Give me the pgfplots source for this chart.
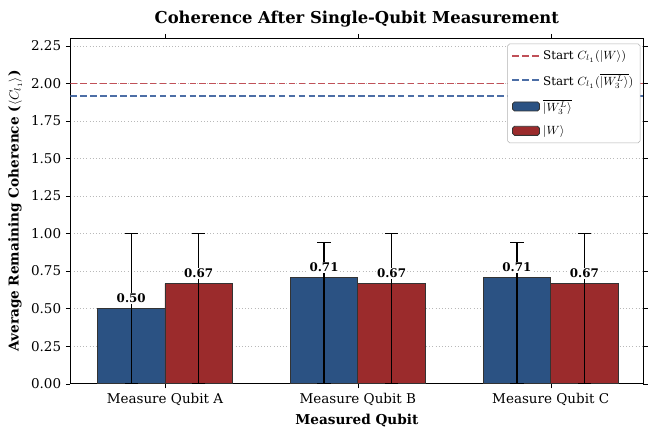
\documentclass[border=0pt]{standalone}
\usepackage{fontspec}
\setmainfont{DejaVu Serif}
\usepackage{pgfplots}
\pgfplotsset{compat=1.18}
\definecolor{cblue}{RGB}{43,82,131}
\definecolor{cred}{RGB}{155,43,44}
\definecolor{lred}{RGB}{192,80,88}
\definecolor{lblue}{RGB}{76,110,166}
\pgfplotsset{
  lineleg/.style={legend image code/.code={\draw[##1] (0cm,0cm) -- (0.72cm,0cm);}},
  barleg/.style={legend image code/.code={\draw[##1] (0cm,-0.12cm) rectangle (0.72cm,0.12cm);}},
}
\begin{document}
\begin{tikzpicture}
\begin{axis}[
  set layers,
  scale only axis,
  width=433pt, height=261pt,
  xmin=-0.49, xmax=2.48,
  ymin=0, ymax=2.3,
  xtick={0,1,2},
  xticklabels={Measure Qubit A, Measure Qubit B, Measure Qubit C},
  ytick={0,0.25,...,2.25},
  yticklabel style={/pgf/number format/.cd, fixed, fixed zerofill, precision=2},
  /pgf/number format/assume math mode=true,
  tick label style={font=\fontsize{10.2}{12}\selectfont},
  tick align=outside,
  xtick style={draw=black},
  ytick style={draw=black},
  major tick length=3.5pt,
  ymajorgrids,
  grid style={dotted, gray!55, line width=0.6pt},
  title={\bfseries Coherence After Single-Qubit Measurement},
  title style={font=\fontsize{12.4}{14}\selectfont, yshift=-1pt},
  xlabel={\bfseries Measured Qubit},
  ylabel={\bfseries Average Remaining Coherence ($\langle C_{l_1}\rangle$)},
  label style={font=\fontsize{10.3}{12}\selectfont},
  legend cell align=left,
  legend style={at={(0.995,0.985)}, anchor=north east, font=\fontsize{9}{10}\selectfont, draw=gray!60, rounded corners=1.5pt, row sep=5pt, inner ysep=3pt},
  nodes near coords style={font=\fontsize{9}{10}\selectfont\bfseries, fill=white, inner sep=1pt, anchor=south, yshift=3pt,
    /pgf/number format/.cd, fixed, fixed zerofill, precision=2},
]
\addplot[lred, dash pattern=on 5pt off 2.5pt, line width=1.4pt, lineleg] coordinates {(-0.49,2.0) (2.48,2.0)};
\addlegendentry{Start $C_{l_1}(|W\rangle)$}
\addplot[lblue, dash pattern=on 5pt off 2.5pt, line width=1.4pt, lineleg] coordinates {(-0.49,1.914) (2.48,1.914)};
\addlegendentry{Start $C_{l_1}(\overline{|W_3^L\rangle})$}
\addplot[ybar, bar width=0.35, bar shift=0pt, fill=cblue, draw=black!80, line width=0.6pt, barleg,
  nodes near coords,
  error bars/.cd, y dir=both, y explicit,
  error bar style={line width=0.9pt, black},
  error mark options={rotate=90, mark size=5pt, line width=0.9pt, black}]
  coordinates {(-0.175,0.5) +=(0,0.5) -=(0,0.5)
               (0.825,0.7071) +=(0,0.2357) -=(0,0.7071)
               (1.825,0.7071) +=(0,0.2357) -=(0,0.7071)};
\addlegendentry{$\overline{|W_3^L\rangle}$}
\addplot[ybar, bar width=0.35, bar shift=0pt, fill=cred, draw=black!80, line width=0.6pt, barleg,
  nodes near coords,
  error bars/.cd, y dir=both, y explicit,
  error bar style={line width=0.9pt, black},
  error mark options={rotate=90, mark size=5pt, line width=0.9pt, black}]
  coordinates {(0.175,0.6667) +=(0,0.3333) -=(0,0.6667)
               (1.175,0.6667) +=(0,0.3333) -=(0,0.6667)
               (2.175,0.6667) +=(0,0.3333) -=(0,0.6667)};
\addlegendentry{$|W\rangle$}
\end{axis}
\path ([yshift=5pt]current bounding box.north west) ++(-3pt,0) coordinate (tl);
\path (tl) rectangle (current bounding box.south east);
\end{tikzpicture}
\end{document}
